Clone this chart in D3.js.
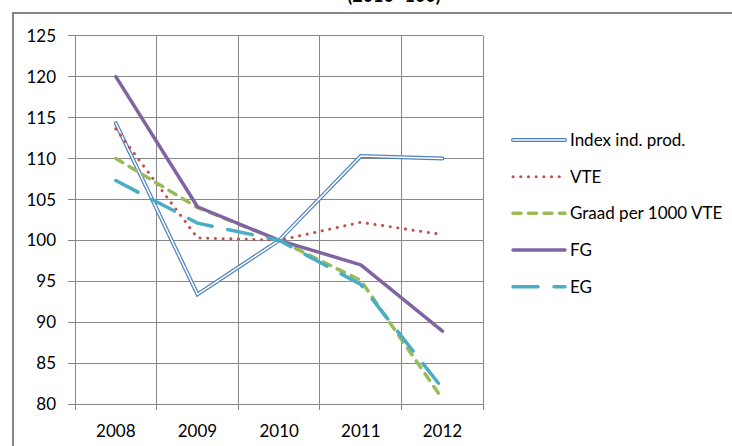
<!DOCTYPE html>
<html><head><meta charset="utf-8">
<script src="https://cdn.jsdelivr.net/npm/d3@7/dist/d3.min.js"></script>
<style>body{margin:0;background:#fff}svg{display:block}</style>
</head><body>
<svg id="c" width="732" height="446"></svg>
<script>
const years = ["2008","2009","2010","2011","2012"];
const indexProd = [114.3, 93.4, 100, 110.3, 110.0];
const vte = [113.6, 100.3, 100, 102.2, 100.7];
const graad = [110.0, 104.0, 100, 95.1, 80.6];
const fg = [120.0, 104.1, 100, 97.0, 88.9];
const eg = [107.3, 102.1, 100, 94.6, 81.9];
const yTicks = [80,85,90,95,100,105,110,115,120,125];
const seriesNames = ["Index ind. prod.","VTE","Graad per 1000 VTE","FG","EG"];
const title = "(2010=100)";

const series = [
  {name: seriesNames[0], values: indexProd, type: "double", color: "#4f81bd"},
  {name: seriesNames[1], values: vte, type: "dot", color: "#c0504d"},
  {name: seriesNames[2], values: graad, type: "dash", color: "#9bbb59"},
  {name: seriesNames[3], values: fg, type: "solid", color: "#8064a2"},
  {name: seriesNames[4], values: eg, type: "longdash", color: "#4bacc6"}
];

const svg = d3.select("#c");
const font = "Lato, 'Open Sans', sans-serif";
const fs = 17;

// outer frame
svg.append("rect").attr("x",13).attr("y",13).attr("width",740).attr("height",460)
  .attr("fill","none").attr("stroke","#868686").attr("stroke-width",2);

// title (cut off at top)
svg.append("text").attr("x",394).attr("y",2).attr("text-anchor","middle")
  .attr("font-family",font).attr("font-weight","bold").attr("font-size",18).attr("fill","#000").text(title);

const x = d3.scaleBand().domain(years).range([75, 483.3]).padding(0);
const y = d3.scaleLinear().domain([80,125]).range([404, 35.7]);

const grid = svg.append("g").attr("stroke","#878787").attr("stroke-width",1).attr("shape-rendering","crispEdges");
// horizontal gridlines with ticks
yTicks.forEach(t => {
  grid.append("line").attr("x1",68).attr("x2",483.3).attr("y1",y(t)).attr("y2",y(t));
});
// vertical gridlines at band edges
const edges = years.map(d => x(d)).concat([x.range()[1]]);
edges.forEach(e => {
  grid.append("line").attr("x1",e).attr("x2",e).attr("y1",y(125)).attr("y2",410);
});

// y labels
svg.append("g").selectAll("text").data(yTicks).join("text")
  .attr("x",56).attr("y",d=>y(d)).attr("dy","0.36em").attr("text-anchor","end")
  .attr("font-family",font).attr("font-size",fs).attr("fill","#000").text(d=>d);
// x labels
svg.append("g").selectAll("text").data(years).join("text")
  .attr("x",d=>x(d)+x.bandwidth()/2).attr("y",436.5).attr("text-anchor","middle")
  .attr("font-family",font).attr("font-size",fs).attr("fill","#000").text(d=>d);

const line = d3.line().x((d,i)=>x(years[i])+x.bandwidth()/2).y(d=>y(d));

function styled(sel, s) {
  if (s.type === "dot") {
    sel.attr("stroke",s.color).attr("stroke-width",3).attr("stroke-linecap","round").attr("stroke-dasharray","0.1,7.6");
  } else if (s.type === "dash") {
    sel.attr("stroke",s.color).attr("stroke-width",3.5).attr("stroke-linecap","round").attr("stroke-dasharray","8,7.5");
  } else if (s.type === "longdash") {
    sel.attr("stroke",s.color).attr("stroke-width",3.5).attr("stroke-linecap","round").attr("stroke-dasharray","25,16");
  } else if (s.type === "solid") {
    sel.attr("stroke",s.color).attr("stroke-width",3.5).attr("stroke-linecap","round");
  }
  return sel;
}

function draw(g, s, pathFn) {
  if (s.type === "double") {
    pathFn(g).attr("stroke",s.color).attr("stroke-width",4).attr("stroke-linecap","round").attr("stroke-linejoin","miter");
    pathFn(g).attr("stroke","#ffffff").attr("stroke-width",1.6).attr("stroke-linecap","round");
  } else {
    styled(pathFn(g), s).attr("stroke-linejoin","round");
  }
}

const plot = svg.append("g").attr("fill","none");
series.forEach(s => {
  draw(plot, s, g => g.append("path").attr("d", line(s.values)).attr("fill","none"));
});

// legend
const legY = [140, 176.7, 213.3, 250, 286.7];
const leg = svg.append("g");
series.forEach((s,i) => {
  draw(leg, s, g => g.append("line").attr("x1",513).attr("x2",565).attr("y1",legY[i]).attr("y2",legY[i]));
  leg.append("text").attr("x",570).attr("y",legY[i]).attr("dy","0.36em")
    .attr("font-family",font).attr("font-size",fs).attr("fill","#000").text(s.name);
});
</script>
</body></html>
